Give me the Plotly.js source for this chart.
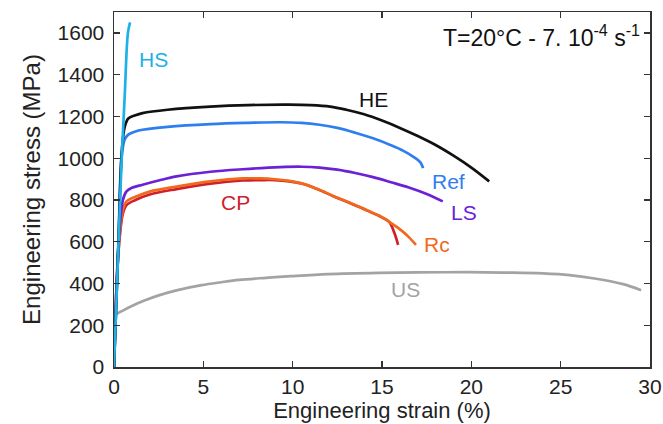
<!DOCTYPE html>
<html>
<head>
<meta charset="utf-8">
<script src="https://cdn.plot.ly/plotly-3.0.1.min.js"></script>
<style>
  html, body { margin: 0; padding: 0; background: #fff; }
  #chart { width: 663px; height: 424px; }
</style>
</head>
<body>
<div id="chart"></div>
<script>
// Engineering stress-strain curves at T = 20 °C, 7e-4 s^-1
const usStrain  = [0, 0.07, 0.5, 1.0, 1.7, 2.5, 3.5, 4.9, 6, 7, 8.5, 9.9, 12, 14.8, 17, 19.8, 22, 24, 25.5, 26.9, 28.5, 29.5];
const usStress  = [0, 246, 270, 292, 318, 343, 367, 392, 406, 417, 427, 435, 445, 451, 453, 454, 452, 448, 440, 424, 397, 368];

const cpStrain  = [0, 0.25, 0.5, 0.7, 1.2, 2, 3.5, 5.4, 7.2, 8.2, 9, 9.8, 10.6, 11.4, 12.3, 13.2, 14.1, 14.9, 15.4, 15.7, 15.9];
const cpStress  = [0, 550, 735, 775, 800, 826, 852, 878, 893, 895, 895, 889, 876, 851, 817, 785, 752, 720, 695, 640, 585];

const rcStrain  = [0, 0.25, 0.5, 0.7, 1.2, 2, 3.5, 5.4, 7.2, 8.2, 9, 9.8, 10.6, 11.4, 12.3, 13.2, 14.1, 15, 15.6, 16.1, 16.5, 16.9];
const rcStress  = [0, 560, 753, 793, 815, 840, 864, 889, 903, 903, 899, 891, 877, 852, 818, 786, 753, 718, 684, 653, 622, 585];

const lsStrain  = [0, 0.25, 0.5, 0.7, 1.0, 1.6, 2.5, 3.5, 5.4, 7.2, 9.3, 10.5, 11.5, 12.5, 13.5, 14.5, 15.5, 16.5, 17.5, 18.4];
const lsStress  = [0, 580, 800, 841, 858, 873, 893, 913, 935, 947, 957, 959, 955, 945, 929, 909, 885, 860, 829, 793];

const refStrain = [0, 0.25, 0.42, 0.6, 0.8, 1.2, 1.6, 3, 5.4, 7.5, 9.3, 10.5, 11.5, 12.5, 13.5, 14.5, 15.5, 16.2, 16.8, 17.15, 17.3];
const refStress = [0, 600, 1000, 1090, 1113, 1128, 1136, 1150, 1163, 1169, 1172, 1169, 1160, 1145, 1122, 1095, 1062, 1035, 1004, 980, 952];

const heStrain  = [0, 0.25, 0.45, 0.6, 0.8, 1.2, 1.6, 3, 5.4, 7.5, 9.8, 11, 12.1, 13, 14, 15, 16, 17, 18, 19, 20, 21];
const heStress  = [0, 600, 1050, 1150, 1190, 1206, 1216, 1232, 1247, 1254, 1256, 1254, 1247, 1232, 1210, 1180, 1145, 1106, 1063, 1012, 955, 889];

const hsStrain  = [0, 0.17, 0.3, 0.43, 0.6, 0.78, 0.9];
const hsStress  = [0, 400, 700, 1000, 1300, 1600, 1650];

const xTicks = [0, 5, 10, 15, 20, 25, 30];
const yTicks = [0, 200, 400, 600, 800, 1000, 1200, 1400, 1600];

const FONT = 'Liberation Sans, Arial, sans-serif';
const colors = {
  US: '#a3a3a3', CP: '#d0202c', Rc: '#f0691c', LS: '#6a22d4',
  Ref: '#2f7ef0', HE: '#111111', HS: '#1cb2e8'
};

function curve(x, y, name) {
  return {
    x: x, y: y, name: name, type: 'scatter', mode: 'lines',
    line: { color: colors[name], width: 2.7, shape: 'spline', smoothing: 1 },
    hoverinfo: 'skip'
  };
}

// CP sits underneath Rc where the two overlap
const traces = [
  curve(usStrain, usStress, 'US'),
  curve(cpStrain, cpStress, 'CP'),
  curve(rcStrain, rcStress, 'Rc'),
  curve(lsStrain, lsStress, 'LS'),
  curve(refStrain, refStress, 'Ref'),
  curve(heStrain, heStress, 'HE'),
  curve(hsStrain, hsStress, 'HS')
];

function label(text, x, y, name) {
  return { text: text, x: x, y: y, xref: 'x', yref: 'y', showarrow: false,
           font: { family: FONT, size: 21, color: colors[name] } };
}

const layout = {
  width: 663, height: 424,
  margin: { l: 114, r: 13, t: 12, b: 57 },
  paper_bgcolor: '#fff', plot_bgcolor: '#fff',
  showlegend: false,
  font: { family: FONT, size: 21, color: '#222' },
  xaxis: {
    range: [0, 30], tickvals: xTicks, ticktext: xTicks.map(String),
    ticks: 'inside', ticklen: 6, tickwidth: 1.3, tickcolor: '#333',
    showline: true, linecolor: '#333', linewidth: 1.5, mirror: 'ticks',
    showgrid: false, zeroline: false,
    tickfont: { family: FONT, size: 21, color: '#222' },
    title: { text: 'Engineering strain (%)', font: { family: FONT, size: 22, color: '#222' }, standoff: 0 }
  },
  yaxis: {
    range: [0, 1700], tickvals: yTicks, ticktext: yTicks.map(String),
    ticks: 'inside', ticklen: 6, tickwidth: 1.3, tickcolor: '#333',
    showline: true, linecolor: '#333', linewidth: 1.5, mirror: 'ticks',
    showgrid: false, zeroline: false,
    tickfont: { family: FONT, size: 21, color: '#222' },
    ticklabelstandoff: 4,
    title: { text: 'Engineering stress (MPa)', font: { family: FONT, size: 24, color: '#222' }, standoff: 10 }
  },
  annotations: [
    label('HS', 2.2, 1472, 'HS'),
    label('HE', 14.5, 1281, 'HE'),
    label('Ref', 18.7, 889, 'Ref'),
    label('LS', 19.6, 739, 'LS'),
    label('Rc', 18.1, 585, 'Rc'),
    label('CP', 6.8, 787, 'CP'),
    label('US', 16.3, 369, 'US'),
    { text: 'T=20°C - 7. 10<sup>-4</sup> s<sup>-1</sup>', x: 0.985, y: 0.98,
      xref: 'paper', yref: 'paper', xanchor: 'right', yanchor: 'top', showarrow: false,
      font: { family: FONT, size: 23, color: '#111' } }
  ]
};

Plotly.newPlot('chart', traces, layout, { staticPlot: true, displayModeBar: false });
</script>
</body>
</html>
